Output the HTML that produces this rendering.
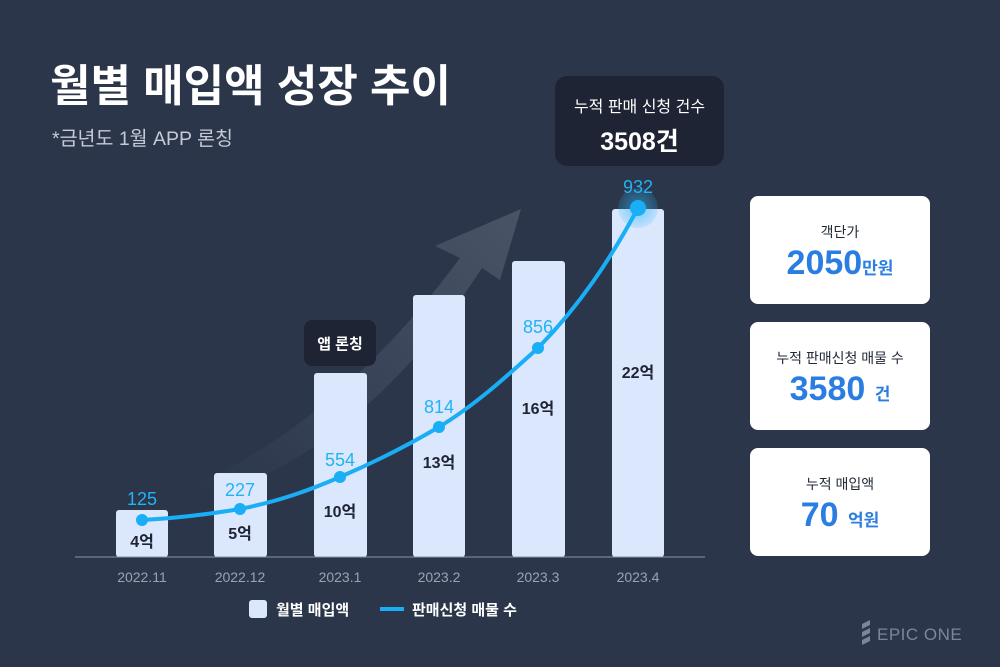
<!DOCTYPE html>
<html><head><meta charset="utf-8"><style>
*{margin:0;padding:0;box-sizing:border-box}
body{width:1000px;height:667px;background:#2c364b;font-family:"Liberation Sans","Noto Sans CJK KR",sans-serif;position:relative;overflow:hidden}
.t{position:absolute;white-space:nowrap}
.card{position:absolute;left:750px;width:180px;height:108px;background:#fff;border-radius:8px;text-align:center}
.card .l{position:absolute;top:26px;width:100%;font-size:14px;color:#222a38}
.card .v{position:absolute;top:48px;width:100%;font-size:34px;font-weight:bold;color:#2a7de1}
.card .v span{font-size:17px}
</style></head><body>
<div class="t" style="left:50px;top:50px;font-size:44px;font-weight:bold;color:#fff">월별 매입액 성장 추이</div>
<div class="t" style="left:52px;top:122px;font-size:19.5px;color:#c5cad6">*금년도 1월 APP 론칭</div>
<div style="position:absolute;left:555px;top:76px;width:169px;height:90px;background:#1e2433;border-radius:12px;text-align:center;color:#fff">
<div style="margin-top:17px;font-size:16px">누적 판매 신청 건수</div>
<div style="margin-top:5px;font-size:25px;font-weight:bold">3508건</div></div>
<svg width="1000" height="667" style="position:absolute;left:0;top:0">
<defs><linearGradient id="g" x1="0" y1="1" x2="1" y2="0"><stop offset="0" stop-color="#4a5568" stop-opacity="0"/><stop offset="1" stop-color="#4a5568" stop-opacity="0.95"/></linearGradient>
<radialGradient id="h"><stop offset="0" stop-color="#29b6f6" stop-opacity="0.6"/><stop offset="1" stop-color="#29b6f6" stop-opacity="0.15"/></radialGradient></defs>
<path d="M195,485 Q340,420 460,258 L435,246 L521,209 L500,280 L482,268 Q370,440 225,492 Z" fill="url(#g)"/>
<g fill="#dbe7fd">
<rect x="116" y="510" width="52" height="47" rx="3"/>
<rect x="214" y="473" width="53" height="84" rx="3"/>
<rect x="314" y="373" width="53" height="184" rx="3"/>
<rect x="413" y="295" width="52" height="262" rx="3"/>
<rect x="512" y="261" width="53" height="296" rx="3"/>
<rect x="612" y="209" width="52" height="348" rx="3"/>
</g>
<line x1="75" y1="557" x2="705" y2="557" stroke="#8a93a6" stroke-width="1"/>
<circle cx="638" cy="208" r="20" fill="url(#h)"/>
<path d="M142,520 C180,518 210,514 240,509 C280,501 310,490 340,477 C375,462 405,447 439,427 C475,405 505,378 538,348 C580,305 610,260 638,208" fill="none" stroke="#19aef5" stroke-width="4"/>
<g fill="#19aef5"><circle cx="142" cy="520" r="6"/><circle cx="240" cy="509" r="6"/><circle cx="340" cy="477" r="6"/><circle cx="439" cy="427" r="6"/><circle cx="538" cy="348" r="6"/><circle cx="638" cy="208" r="8"/></g>
<g font-size="18" fill="#22b3f5" text-anchor="middle" font-family="Liberation Sans,sans-serif">
<text x="142" y="505">125</text><text x="240" y="496">227</text><text x="340" y="466">554</text><text x="439" y="413">814</text><text x="538" y="333">856</text><text x="638" y="193">932</text></g>
<g font-size="16" font-weight="bold" fill="#1e2433" text-anchor="middle" font-family="Liberation Sans,Noto Sans CJK KR,sans-serif">
<text x="142" y="547">4억</text><text x="240" y="539">5억</text><text x="340" y="517">10억</text><text x="439" y="468">13억</text><text x="538" y="414">16억</text><text x="638" y="378">22억</text></g>
<g font-size="14" fill="#9aa2b3" text-anchor="middle" font-family="Liberation Sans,sans-serif">
<text x="142" y="582">2022.11</text><text x="240" y="582">2022.12</text><text x="340" y="582">2023.1</text><text x="439" y="582">2023.2</text><text x="538" y="582">2023.3</text><text x="638" y="582">2023.4</text></g>
<rect x="304" y="320" width="72" height="46" rx="8" fill="#1e2433"/>
<text x="340" y="349" font-size="15" font-weight="bold" fill="#fff" text-anchor="middle" font-family="Liberation Sans,Noto Sans CJK KR,sans-serif">앱 론칭</text>
<rect x="249" y="600" width="18" height="18" rx="3" fill="#dbe7fd"/>
<text x="276" y="615" font-size="15" font-weight="bold" fill="#fff" font-family="Liberation Sans,Noto Sans CJK KR,sans-serif">월별 매입액</text>
<rect x="380" y="607" width="24" height="4" fill="#19aef5"/>
<text x="412" y="615" font-size="15" font-weight="bold" fill="#fff" font-family="Liberation Sans,Noto Sans CJK KR,sans-serif">판매신청 매물 수</text>
<g fill="#7c869a"><path d="M862,624 l8,-4 v5 l-8,4z M862,632 l8,-4 v5 l-8,4z M862,640 l8,-4 v5 l-8,4z"/></g>
<text x="877" y="640" font-size="17" fill="#7c869a" font-family="Liberation Sans,sans-serif" letter-spacing="0.5">EPIC ONE</text>
</svg>
<div class="card" style="top:196px"><div class="l">객단가</div><div class="v">2050<span>만원</span></div></div>
<div class="card" style="top:322px"><div class="l">누적 판매신청 매물 수</div><div class="v">3580 <span>건</span></div></div>
<div class="card" style="top:448px"><div class="l">누적 매입액</div><div class="v">70 <span>억원</span></div></div>
</body></html>
